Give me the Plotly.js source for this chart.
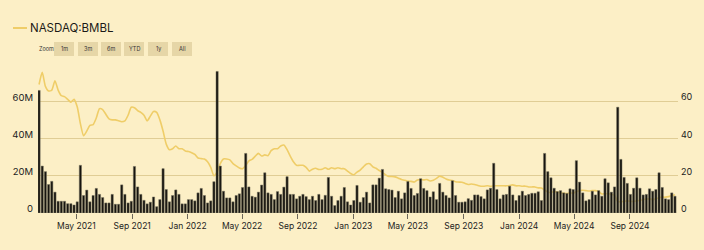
<!DOCTYPE html>
<html>
<head>
<meta charset="utf-8">
<script src="https://cdn.plot.ly/plotly-3.0.1.min.js"></script>
<style>
html,body{margin:0;padding:0;background:#fcefc6;}
#chart{width:704px;height:250px;}
</style>
</head>
<body>
<div id="chart"></div>
<script>
// Weekly series, first week starting 2021-02-08
const firstWeek = '2021-02-08';

// Weekly volume, millions of shares
const volumeM = [
  65.8, 25.2, 22.2, 15.3, 17, 11.2, 6.3, 6.3, 6.3, 5, 5, 4.3, 6, 25.6, 9.4, 12.3, 6, 9.4, 13.2, 10, 8.3, 5.4, 5.4, 10, 4.7, 4.7, 15.1, 10, 5.4, 6.3, 25, 14, 10,
  6.8, 4.9, 5.8, 8.6, 3.4, 7.2, 23.8, 12.6, 6, 9.4, 12.4, 10, 4.9, 4.9, 7.2, 7.2, 6.5, 10.8, 13.2, 9.4, 5.4, 6.5, 16.8, 76, 25.2, 11.7, 8.1, 8.1, 6, 9.4, 10.3, 13.7, 32, 14,
  9, 8.5, 11.2, 15, 21.6, 10.8, 10, 7.2, 11.5, 10, 13.9, 19.5, 10, 10, 7.6, 9, 10, 8.8, 7.2, 9, 6.7, 10, 7.2, 9.5, 19.1, 9, 4, 6.7, 9, 13.7, 6, 4.3, 6.7,
  14.8, 5.8, 8.3, 11.2, 5.4, 15.1, 15.1, 18.7, 23.4, 13, 12.6, 12.3, 8.3, 11.7, 7.6, 10.8, 16.9, 13.2, 9.4, 10.5, 18.4, 13.2, 12, 8.6, 11.4, 7.2, 15.9, 11.2, 9.4, 8.1, 17.3, 9.4, 5.8,
  5.8, 6, 7.7, 6.8, 9.7, 9.7, 8.8, 7.6, 12.4, 13.3, 26.7, 12.6, 7.6, 9.7, 10, 14.4, 9.7, 6.7, 9.4, 11.7, 9.4, 10, 10.6, 10.6, 11.4, 6.7, 32, 22.2, 18.9, 13.3, 11.5, 12, 10.8, 10.5,
  13, 12.6, 28.1, 16.6, 10.8, 6.5, 7.2, 11.7, 9.7, 12, 9, 18.4, 16.2, 11.2, 14, 56.8, 28.8, 19.1, 15.9, 10, 13.3, 18.9, 13.3, 9.7, 10, 13, 11.7, 12.6, 21.6, 13.7, 7.6, 7.2, 10.8, 9
];

// Weekly closing price, USD
const price = [
  69, 75.5, 68, 65.5, 66, 71, 66, 63, 62.5, 61, 59.5, 61, 57, 48, 41.5, 44, 47, 47.5, 51, 56, 55.5, 53, 50.5, 50, 50, 49.5, 49, 49.5, 52.5, 56.8, 56.5, 55, 54,
  52.5, 49.5, 52, 54.5, 54, 50, 44, 37, 34, 34.5, 36, 34.5, 34.5, 33.3, 33, 32.4, 31.5, 29.5, 29.2, 29, 27.5, 24.5, 20, 22, 26.5, 29, 29, 28.5, 26.5, 25.3, 24.2, 23.8, 25.5, 28,
  28.8, 30.5, 32, 30.6, 31.2, 30.8, 33.5, 34.5, 34.5, 36, 36.5, 34, 30.5, 27.5, 25.6, 25.6, 25.6, 24.5, 22.5, 23.5, 24, 23.4, 23.5, 24.3, 23.5, 24.3, 23.8, 24.3, 23.8, 23.8, 22.5, 21.2, 20.5,
  22, 23, 24.8, 26.3, 26.5, 24.8, 24, 22.8, 21.8, 20.5, 19.6, 19.6, 19.4, 18.7, 18, 17.6, 17.1, 17, 16.6, 17.7, 18, 17.8, 18, 17.2, 17.6, 18.6, 19.8, 19.2, 18.3, 17.7, 17.4, 16.8, 16.6,
  16.5, 15.9, 15.3, 15.6, 15.3, 14.8, 14.4, 14.4, 14.6, 14.4, 14.6, 14.6, 14.6, 14.6, 14.6, 14.8, 15.1, 14.6, 14.6, 14.4, 14.4, 14, 14, 14, 13.5, 13.4, 12.4,
  11.3, 11.0, 11.5, 11.2, 10.8, 10.6, 10.5, 10.8, 10.6, 11.5, 12, 12.2, 12, 11.8, 12, 12, 11.5, 10.2, 10.5, 10.3, 10, 9.5, 6.2, 6, 6.3, 6.5, 6.3, 6.2, 6.5, 6.8, 7.2, 7.5, 7.6, 7.3, 7.6, 8.2, 8.5, 8.5, 8.8, 9.3, 9.8
];

const seriesName = 'NASDAQ:BMBL';
const volTickVals = [0, 20e6, 40e6, 60e6, 80e6];
const volTickText = ['0', '20M', '40M', '60M', ''];
const priceTickVals = [0, 20, 40, 60, 80];
const priceTickText = ['0', '20', '40', '60', ''];
const zoomButtons = ['1m', '3m', '6m', 'YTD', '1y', 'All'];

// week dates
const dates = [];
{
  const d0 = new Date(firstWeek + 'T00:00:00Z');
  for (let i = 0; i < volumeM.length; i++) {
    const d = new Date(d0.getTime() + i * 7 * 86400000);
    dates.push(d.toISOString().slice(0, 10));
  }
}
const volume = volumeM.map(v => v * 1e6);

const BG = '#fcefc6';
const GRID = '#e0cd95';
const LINE = '#efcd68';
const FONT = 'Inter, "Open Sans", sans-serif';

// pixel -> paper helpers (plot area: x 38..678, y 64..213)
const L = 38, R = 26, T = 64, B = 37;
const PW = 704 - L - R, PH = 250 - T - B;
const px = x => (x - L) / PW;
const py = y => (250 - B - y) / PH;

const traces = [
  {
    type: 'scatter', mode: 'lines', name: seriesName,
    x: dates, y: price, xaxis: 'x', yaxis: 'y',
    line: {color: LINE, width: 1.6, shape: 'spline', smoothing: 0.6},
    hoverinfo: 'x+y', showlegend: false
  },
  {
    type: 'bar', name: 'Volume',
    x: dates, y: volume, xaxis: 'x', yaxis: 'y2',
    marker: {color: '#16140f', line: {color: '#77725f', width: 0.5}},
    showlegend: false
  }
];

const shapes = [
  {type: 'line', xref: 'paper', yref: 'paper', x0: px(13), x1: px(27), y0: py(28), y1: py(28),
   line: {color: LINE, width: 2}}
];
const btnX = [[54, 74], [78, 98], [101, 121], [124, 144], [148, 168], [172, 192]];
const annotations = [
  {xref: 'paper', yref: 'paper', x: px(28), y: py(28.5), xanchor: 'left', yanchor: 'middle',
   text: seriesName, showarrow: false, font: {family: FONT, size: 11.5, color: '#1b1a17'}},
  {xref: 'paper', yref: 'paper', x: px(37), y: py(48.5), xanchor: 'left', yanchor: 'middle',
   text: 'Zoom', showarrow: false, font: {family: FONT, size: 5.5, color: '#333'}}
];
zoomButtons.forEach((t, i) => {
  const [a, b] = btnX[i];
  shapes.push({type: 'rect', xref: 'paper', yref: 'paper', x0: px(a), x1: px(b), y0: py(42), y1: py(56),
    fillcolor: '#e6d6a7', line: {width: 0}, layer: 'below'});
  annotations.push({xref: 'paper', yref: 'paper', x: px((a + b) / 2), y: py(49), xanchor: 'center', yanchor: 'middle',
    text: t, showarrow: false, font: {family: FONT, size: 5.5, color: '#333'}});
});

const layout = {
  width: 704, height: 250,
  margin: {l: L, r: R, t: T, b: B, pad: 0},
  paper_bgcolor: BG, plot_bgcolor: BG,
  font: {family: FONT, color: '#222'},
  showlegend: false,
  bargap: 0.3,
  xaxis: {
    type: 'date',
    range: ['2021-02-05 16:00', '2024-12-15 17:00'],
    tickvals: ['2021-05-01', '2021-09-01', '2022-01-01', '2022-05-01', '2022-09-01', '2023-01-01',
               '2023-05-01', '2023-09-01', '2024-01-01', '2024-05-01', '2024-09-01'],
    tickformat: '%b %Y',
    ticks: 'outside', ticklen: 5, tickcolor: '#6b6659', tickwidth: 1,
    showgrid: false, zeroline: false, showline: false,
    tickfont: {family: FONT, size: 8.5, color: '#222'}
  },
  yaxis: {
    side: 'right', range: [0, 80],
    tickvals: priceTickVals, ticktext: priceTickText,
    showgrid: true, gridcolor: GRID, gridwidth: 1, zeroline: false, showline: false,
    ticklabelstandoff: 2, ticklabelshift: -4,
    tickfont: {family: FONT, size: 9, color: '#222'}
  },
  yaxis2: {
    side: 'left', overlaying: 'y', range: [0, 80e6],
    tickvals: volTickVals, ticktext: volTickText,
    showgrid: false, zeroline: false, showline: false,
    ticklabelstandoff: 4, ticklabelshift: -4,
    tickfont: {family: FONT, size: 9.5, color: '#222'}
  },
  shapes: shapes,
  annotations: annotations
};

Plotly.newPlot('chart', traces, layout, {displayModeBar: false, staticPlot: true});
</script>
</body>
</html>
